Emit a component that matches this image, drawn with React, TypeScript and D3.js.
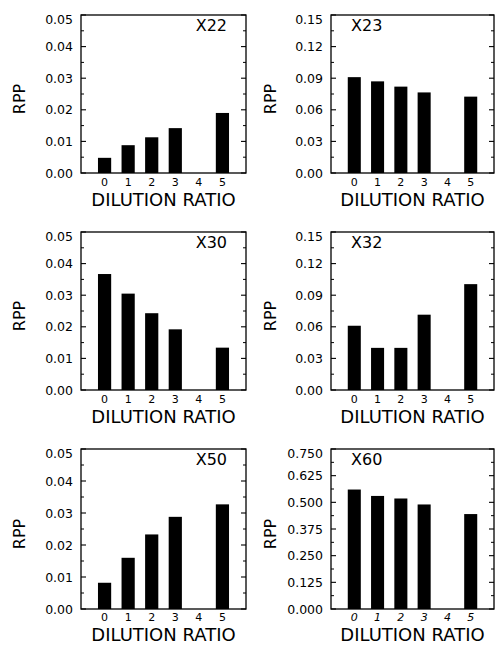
import React from "react";
import * as d3 from "d3";

const categories = [0, 1, 2, 3, 4, 5];
const panelNames = ["X22", "X23", "X30", "X32", "X50", "X60"];

const x22Values = [0.0048, 0.0088, 0.0113, 0.0142, null, 0.019];
const x23Values = [0.091, 0.087, 0.082, 0.0765, null, 0.0725];
const x30Values = [0.0367, 0.0305, 0.0243, 0.0192, null, 0.0134];
const x32Values = [0.061, 0.04, 0.04, 0.0715, null, 0.1005];
const x50Values = [0.0082, 0.016, 0.0233, 0.0288, null, 0.0327];
const x60Values = [0.56, 0.53, 0.518, 0.49, null, 0.445];

const smallTicks = [0, 0.01, 0.02, 0.03, 0.04, 0.05];
const mediumTicks = [0, 0.03, 0.06, 0.09, 0.12, 0.15];
const largeTicks = [0, 0.125, 0.25, 0.375, 0.5, 0.625, 0.75];

const yLabel = "RPP";
const xLabel = "DILUTION RATIO";

const panels = [
  { name: panelNames[0], values: x22Values, ticks: smallTicks, digits: 2 },
  { name: panelNames[1], values: x23Values, ticks: mediumTicks, digits: 2 },
  { name: panelNames[2], values: x30Values, ticks: smallTicks, digits: 2 },
  { name: panelNames[3], values: x32Values, ticks: mediumTicks, digits: 2 },
  { name: panelNames[4], values: x50Values, ticks: smallTicks, digits: 2 },
  { name: panelNames[5], values: x60Values, ticks: largeTicks, digits: 3, italic: true },
];

const colFrames = [
  [81, 246],
  [331, 494],
];
const rowFrames = [
  [15, 173],
  [232, 390],
  [449, 609],
];
const rpX = [19, 270];
const FONT = "'DejaVu Sans', sans-serif";

function Panel({ p, idx }: { p: any; idx: number }) {
  const col = idx % 2;
  const row = Math.floor(idx / 2);
  const [x0, x1] = colFrames[col];
  const [y0, y1] = rowFrames[row];
  const x = d3.scalePoint<number>().domain(categories).range([x0, x1]).padding(1);
  const maxV = p.ticks[p.ticks.length - 1];
  const y = d3.scaleLinear().domain([0, maxV]).range([y1, y0]);
  const barW = x.step() * 0.56;
  const fmt = d3.format(`.${p.digits}f`);
  const minor: number[] = [];
  for (let i = 0; i < p.ticks.length - 1; i++) minor.push((p.ticks[i] + p.ticks[i + 1]) / 2);
  const titleX = col === 0 ? x1 - 19 : x0 + 20;
  const titleAnchor = col === 0 ? "end" : "start";
  const cy = (y0 + y1) / 2 + 5;
  return (
    <g>
      {p.values.map((v: number | null, i: number) =>
        v == null ? null : (
          <rect
            key={i}
            x={(x(categories[i]) as number) - barW / 2}
            y={y(v)}
            width={barW}
            height={y1 - y(v)}
            fill="#000"
          />
        )
      )}
      <rect x={x0} y={y0} width={x1 - x0} height={y1 - y0} fill="none" stroke="#000" strokeWidth={1.3} />
      {p.ticks.map((t: number, i: number) => (
        <g key={"t" + i}>
          <line x1={x0} x2={x0 + 5} y1={y(t)} y2={y(t)} stroke="#000" strokeWidth={1.1} />
          <line x1={x1} x2={x1 - 5} y1={y(t)} y2={y(t)} stroke="#000" strokeWidth={1.1} />
          <text
            x={x0 - 8}
            y={y(t) + (i === p.ticks.length - 1 ? 4 : 0)}
            textAnchor="end"
            dominantBaseline="central"
            fontSize={12.5}
            fontFamily={FONT}
          >
            {fmt(t)}
          </text>
        </g>
      ))}
      {minor.map((t, i) => (
        <g key={"m" + i}>
          <line x1={x0} x2={x0 + 3} y1={y(t)} y2={y(t)} stroke="#000" strokeWidth={1} />
          <line x1={x1} x2={x1 - 3} y1={y(t)} y2={y(t)} stroke="#000" strokeWidth={1} />
        </g>
      ))}
      {categories.map((c) => (
        <text
          key={"c" + c}
          x={x(c) as number}
          y={y1 + (row === 2 ? 12 : 13)}
          textAnchor="middle"
          fontSize={11}
          fontFamily={FONT}
          fontStyle={p.italic ? "italic" : "normal"}
        >
          {c}
        </text>
      ))}
      <text
        x={(x0 + x1) / 2}
        y={y1 + (row === 2 ? 32 : 33)}
        textAnchor="middle"
        fontSize={18}
        fontFamily={FONT}
      >
        {xLabel}
      </text>
      <text
        transform={`translate(${rpX[col]},${cy}) rotate(-90)`}
        textAnchor="middle"
        dominantBaseline="central"
        fontSize={16}
        fontFamily={FONT}
      >
        {yLabel}
      </text>
      <text x={titleX} y={y0 + 16} textAnchor={titleAnchor} fontSize={16} fontFamily={FONT}>
        {p.name}
      </text>
    </g>
  );
}

export default function App() {
  return (
    <svg
      width={496}
      height={650}
      style={{ position: "absolute", left: 0, top: 0, background: "#fff" }}
    >
      <rect x={0} y={0} width={496} height={650} fill="#fff" />
      {panels.map((p, i) => (
        <Panel key={p.name} p={p} idx={i} />
      ))}
    </svg>
  );
}
